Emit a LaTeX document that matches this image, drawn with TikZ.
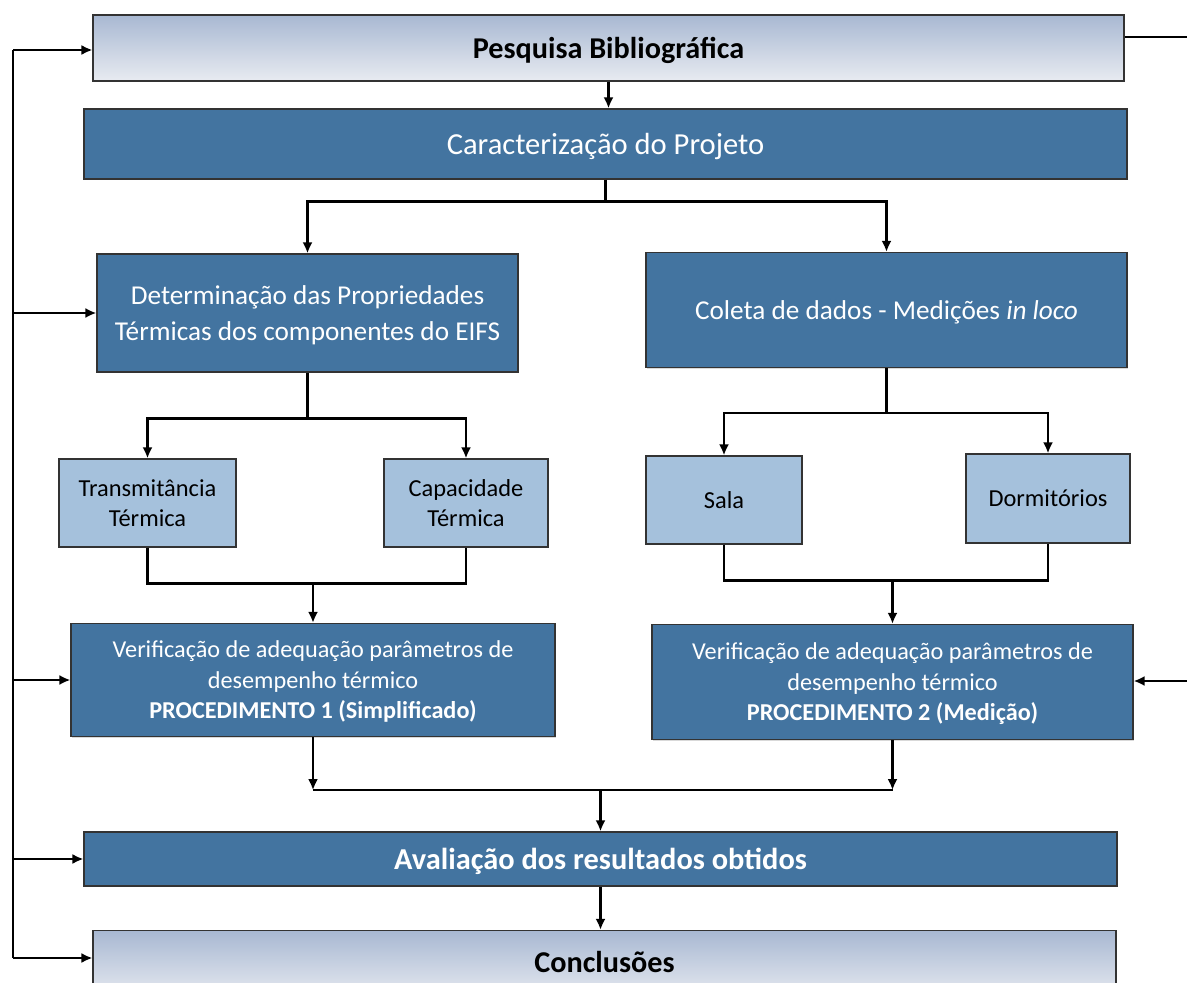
\documentclass[tikz,border=0pt]{standalone}
\usepackage{fontspec}
\setmainfont{Carlito}
\usetikzlibrary{arrows.meta,shadows}
\definecolor{boxdark}{HTML}{4374A0}
\definecolor{boxlight}{HTML}{A5C1DC}
\definecolor{gradtop}{HTML}{A8B8D2}
\definecolor{gradbot}{HTML}{E8EBF1}
\begin{document}
\begin{tikzpicture}[
      x=0.02cm, y=-0.02cm,
      box/.style={draw=black!80, line width=0.7pt, inner sep=2pt,
                  align=center, text depth=-2pt, drop shadow={shadow xshift=0.8pt,
                  shadow yshift=-0.8pt, opacity=0.3}},
      darkbox/.style={box, fill=boxdark, text=white, text depth=-4.5pt},
      lightbox/.style={box, fill=boxlight, text=black,
                       font=\fontsize{13.9}{17}\selectfont},
      gradbox/.style={box, top color=gradtop, bottom color=gradbot,
                      text=black, font=\bfseries\fontsize{17.2}{20}\selectfont},
      conn/.style={line width=1.4pt, draw=black},
      arr/.style={conn, -{Latex[length=2.2mm,width=2mm]}}
    ]
      \useasboundingbox (0,0) rectangle (1187,983);
      \node[gradbox, minimum width=20.62cm, minimum height=1.32cm] (pesq) at (608.5,48) {Pesquisa Bibliográfica};
      \node[darkbox, minimum width=20.86cm, minimum height=1.4cm,
            font=\fontsize{17.4}{20}\selectfont] (carac) at (605.5,144) {Caracterização do Projeto};
      \node[darkbox, minimum width=8.42cm, minimum height=2.36cm,
            font=\fontsize{15.5}{20.5}\selectfont] (deter) at (307.5,313)
            {Determinação das Propriedades\\Térmicas dos componentes do EIFS};
      \node[darkbox, minimum width=9.62cm, minimum height=2.3cm,
            font=\fontsize{15.5}{20}\selectfont] (coleta) at (886.5,310)
            {Coleta de dados - Medições \textit{in loco}};
      \node[lightbox, minimum width=3.54cm, minimum height=1.76cm] (trans) at (147.5,503) {Transmitância\\Térmica};
      \node[lightbox, minimum width=3.28cm, minimum height=1.76cm] (capac) at (466,503) {Capacidade\\Térmica};
      \node[lightbox, minimum width=3.12cm, minimum height=1.76cm] (sala) at (724,500) {Sala};
      \node[lightbox, minimum width=3.28cm, minimum height=1.78cm] (dorm) at (1048,498.5) {Dormitórios};
      \node[darkbox, minimum width=9.68cm, minimum height=2.26cm,
            font=\fontsize{13.8}{17.4}\selectfont] (verif1) at (313,680)
            {Verificação de adequação parâmetros de\\desempenho térmico\\\textbf{PROCEDIMENTO 1 (Simplificado)}};
      \node[darkbox, minimum width=9.62cm, minimum height=2.3cm,
            font=\fontsize{13.8}{17.4}\selectfont] (verif2) at (892.5,682)
            {Verificação de adequação parâmetros de\\desempenho térmico\\\textbf{PROCEDIMENTO 2 (Medição)}};
      \node[darkbox, minimum width=20.66cm, minimum height=1.08cm,
            font=\bfseries\fontsize{17.3}{20}\selectfont] (aval) at (600.5,859) {Avaliação dos resultados obtidos};
      \node[gradbox, minimum width=20.46cm, minimum height=1.38cm,
            text depth=3pt] (concl) at (604.5,965) {Conclusões};

      \draw[arr] (pesq.south) -- (pesq.south |- carac.north);
      \draw[conn] (carac.south) -- ++(0,22) coordinate (jc);
      \draw[arr] (jc) -| (deter.north);
      \draw[arr] (jc) -| (coleta.north);

      \draw[conn] (deter.south) -- ++(0,46) coordinate (jd);
      \draw[arr] (jd) -| (trans.north);
      \draw[arr] (jd) -| (capac.north);
      \draw[conn] (trans.south) -- ++(0,36) coordinate (jt) -| (capac.south);
      \draw[arr] (verif1.north |- jt) -- (verif1.north);

      \draw[conn] (coleta.south) -- ++(0,45) coordinate (jk);
      \draw[arr] (jk) -| (sala.north);
      \draw[arr] (jk) -| (dorm.north);
      \draw[conn] (sala.south) -- ++(0,36) coordinate (js) -| (dorm.south);
      \draw[arr] (verif2.north |- js) -- (verif2.north);

      \draw[arr] (verif1.south) -- ++(0,53) coordinate (jv1);
      \draw[arr] (verif2.south) -- (verif2.south |- jv1) coordinate (jv2);
      \draw[conn] (jv1) -- (jv2);
      \draw[arr] (aval.north |- jv1) -- (aval.north);
      \draw[arr] (aval.south) -- (aval.south |- concl.north);

      \coordinate (lt) at (13,50);
      \coordinate (lb) at (13,958);
      \draw[conn] (lt) -- (lb);
      \draw[arr] (lt) -- (pesq.west |- lt);
      \draw[arr] (lt |- deter.west) -- (deter.west);
      \draw[arr] (lt |- verif1.west) -- (verif1.west);
      \draw[arr] (lt |- aval.west) -- (aval.west);
      \draw[arr] (lb) -- (concl.west |- lb);

      \coordinate (rt) at (1187,37);
      \coordinate (rv) at (1187,681);
      \draw[conn] (pesq.east |- rt) -- (rt);
      \draw[arr] (rv) -- (verif2.east |- rv);
    \end{tikzpicture}
\end{document}
